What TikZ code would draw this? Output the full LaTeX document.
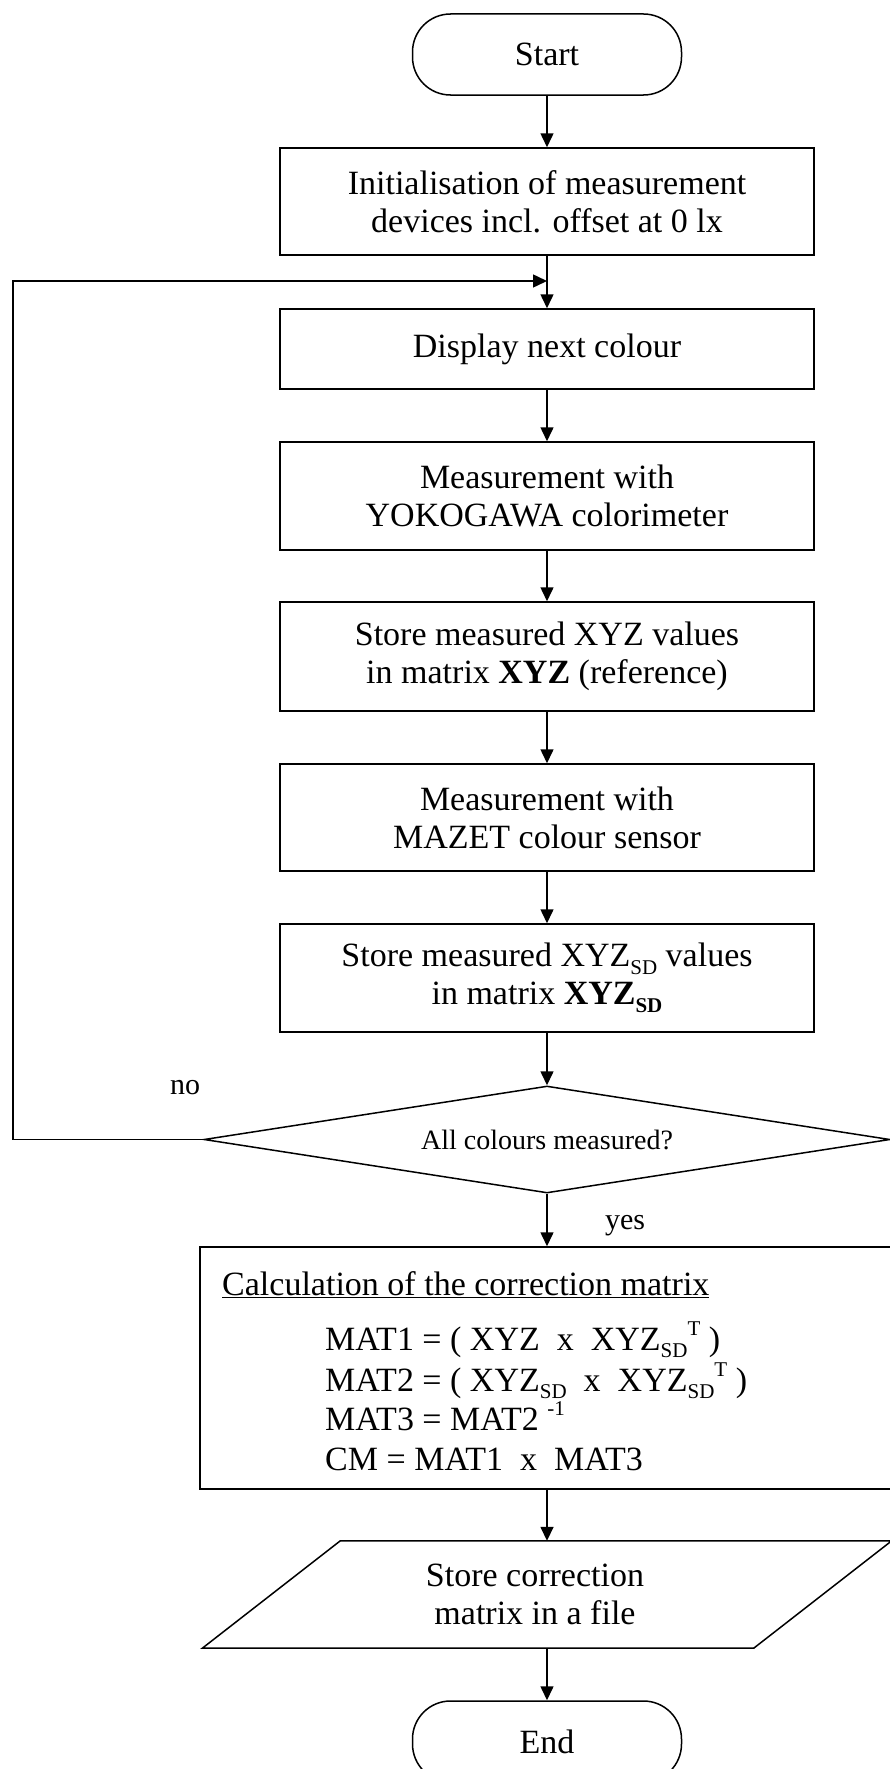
\documentclass[tikz,border=0pt]{standalone}
\usepackage{fontspec}
\setmainfont{Liberation Serif}
\usetikzlibrary{arrows.meta,shapes.geometric}
\newcommand\dnsd[1]{\raisebox{-0.22em}{\fontsize{21}{21}\selectfont #1}}
\newcommand\upsc[1]{\raisebox{0.42em}{\fontsize{21}{21}\selectfont #1}}
\begin{document}
\begin{tikzpicture}[x=1pt,y=-1pt,
  every node/.style={font=\fontsize{34}{38}\selectfont, inner sep=0pt},
  box/.style={draw, line width=1.5pt, minimum width=534pt, align=center},
  term/.style={draw, line width=1.5pt, rounded corners=38pt, minimum width=269pt, minimum height=81pt},
  decision/.style={draw, line width=1.5pt, diamond, aspect=6.4, minimum width=686pt, minimum height=107pt, font=\fontsize{28}{32}\selectfont},
  lbl/.style={font=\fontsize{30}{34}\selectfont},
  calctext/.style={anchor=base west},
  arr/.style={line width=1.5pt, -{Triangle[length=14pt,width=13pt]}},
  plain/.style={line width=1.5pt}
]
\useasboundingbox (0,0) rectangle (890,1769);
\clip (0,0) rectangle (890,1769);

\node[term] (start) at (547,54.5) {Start};
\node[box, minimum height=107pt] (init) at (547,201.5) {Initialisation of measurement\\devices incl. offset at 0 lx};
\node[box, minimum height=80pt] (disp) at (547,349) {Display next colour};
\node[box, minimum height=108pt] (yoko) at (547,496) {Measurement with\\YOKOGAWA colorimeter};
\node[box, minimum height=109pt] (sxyz) at (547,656.5) {Store measured XYZ values\\in matrix \textbf{XYZ} (reference)};
\node[box, minimum height=107pt] (mazet) at (547,817.5) {Measurement with\\MAZET colour sensor};
\node[box, minimum height=108pt] (ssd) at (547,978) {Store measured XYZ\dnsd{SD} values\\in matrix \textbf{XYZ\dnsd{SD}}};
\node[decision] (dec) at (547,1139.5) {All colours measured?};
\node[draw, line width=1.5pt, minimum width=694pt, minimum height=242pt] (calc) at (547,1368) {};
\node[calctext] (title) at (222,1295) {\underline{Calculation of the correction matrix}};
\node[calctext] (m1) at (325,1350) {MAT1 = ( XYZ \ x \ XYZ\dnsd{SD}\upsc{T} )};
\node[calctext] (m2) at (325,1391) {MAT2 = ( XYZ\dnsd{SD} \ x \ XYZ\dnsd{SD}\upsc{T} )};
\node[calctext] (m3) at (325,1430) {MAT3 = MAT2 \upsc{-1}};
\node[calctext] (m4) at (325,1470) {CM = MAT1 \ x \ MAT3};
\node[minimum width=551pt, minimum height=107pt] (para) at (547,1594.5) {};
\draw[plain] ([xshift=69pt]para.north west) -- ([xshift=69pt]para.north east) -- ([xshift=-69pt]para.south east) -- ([xshift=-69pt]para.south west) -- cycle;
\node[align=center] (paratext) at (535,1594.5) {Store correction\\matrix in a file};
\node[term] (end) at (547,1741.5) {End};

\node[lbl] (no) at (185,1088) {no};
\node[lbl] (yes) at (625,1226) {yes};

\coordinate (join) at (547,281);
\coordinate (lp) at (13,1139.5);

\draw[arr] (start) -- (init);
\draw[arr] (init) -- (disp);
\draw[arr] (dec.west) -- (lp) |- (join);
\draw[arr] (disp) -- (yoko);
\draw[arr] (yoko) -- (sxyz);
\draw[arr] (sxyz) -- (mazet);
\draw[arr] (mazet) -- (ssd);
\draw[arr] (ssd) -- (dec);
\draw[arr] (dec) -- (calc);
\draw[arr] (calc) -- (para);
\draw[arr] (para) -- (end);
\end{tikzpicture}
\end{document}
